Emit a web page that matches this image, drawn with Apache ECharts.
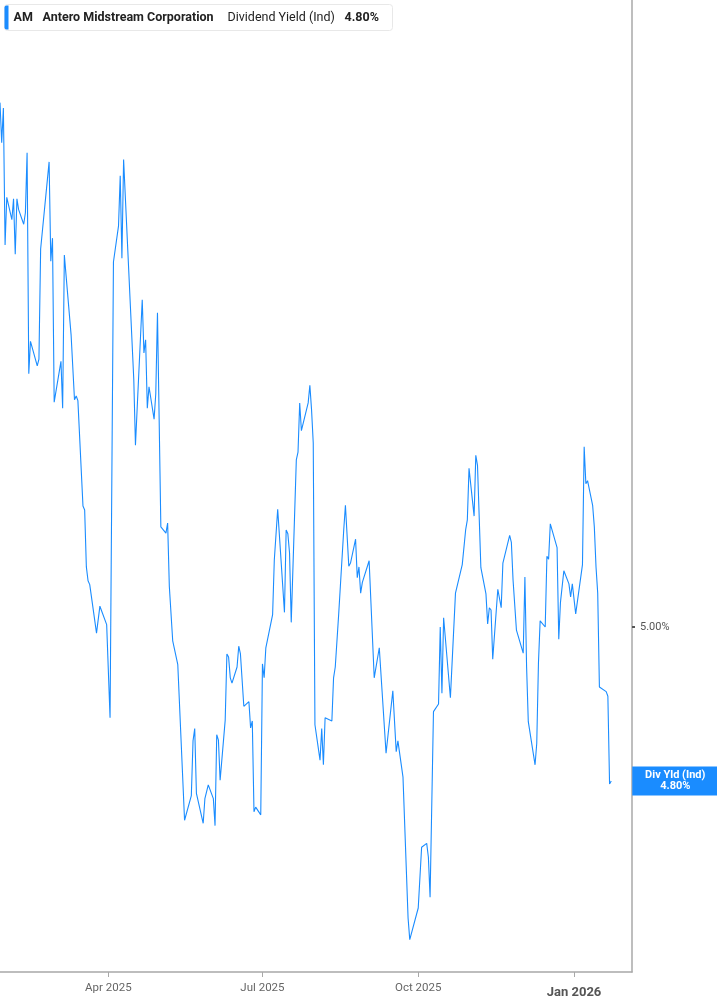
<!DOCTYPE html>
<html>
<head>
<meta charset="utf-8">
<script src="https://cdn.jsdelivr.net/npm/echarts@6/dist/echarts.min.js"></script>
<style>
html,body{margin:0;padding:0;background:#fff;}
#chart{width:717px;height:1005px;}
</style>
</head>
<body>
<div id="chart"></div>
<script>
// ---- data (dividend yield, %) ----
const dates = [
'2025-01-27','2025-01-28','2025-01-29','2025-01-30','2025-01-31','2025-02-03','2025-02-04','2025-02-05','2025-02-06','2025-02-07',
'2025-02-10','2025-02-11','2025-02-12','2025-02-13','2025-02-14','2025-02-18','2025-02-19','2025-02-20','2025-02-25','2025-02-26',
'2025-02-27','2025-02-28','2025-03-04','2025-03-05','2025-03-06','2025-03-10','2025-03-12','2025-03-13','2025-03-14','2025-03-17',
'2025-03-18','2025-03-19','2025-03-20','2025-03-21','2025-03-25','2025-03-27','2025-03-31','2025-04-02','2025-04-04','2025-04-07',
'2025-04-08','2025-04-09','2025-04-10','2025-04-14','2025-04-16','2025-04-17','2025-04-21','2025-04-22','2025-04-23','2025-04-24',
'2025-04-25','2025-04-28','2025-04-29','2025-04-30','2025-05-02','2025-05-05','2025-05-06','2025-05-07','2025-05-08','2025-05-09',
'2025-05-12','2025-05-16','2025-05-20','2025-05-21','2025-05-22','2025-05-23','2025-05-27','2025-05-28','2025-05-29','2025-05-30',
'2025-06-02','2025-06-03','2025-06-04','2025-06-05','2025-06-06','2025-06-09','2025-06-10','2025-06-11','2025-06-12','2025-06-13',
'2025-06-16','2025-06-17','2025-06-18','2025-06-20','2025-06-23','2025-06-24','2025-06-25','2025-06-26','2025-06-27','2025-06-30',
'2025-07-01','2025-07-02','2025-07-03','2025-07-07','2025-07-08','2025-07-10','2025-07-11','2025-07-14','2025-07-15','2025-07-16',
'2025-07-17','2025-07-18','2025-07-21','2025-07-22','2025-07-23','2025-07-24','2025-07-25','2025-07-28','2025-07-29','2025-07-30',
'2025-07-31','2025-08-01','2025-08-04','2025-08-05','2025-08-06','2025-08-07','2025-08-08','2025-08-11','2025-08-12','2025-08-13',
'2025-08-14','2025-08-15','2025-08-18','2025-08-19','2025-08-21','2025-08-22','2025-08-25','2025-08-26','2025-08-27','2025-08-28',
'2025-08-29','2025-09-02','2025-09-05','2025-09-08','2025-09-12','2025-09-16','2025-09-18','2025-09-19','2025-09-22','2025-09-25',
'2025-09-26','2025-10-01','2025-10-03','2025-10-06','2025-10-07','2025-10-08','2025-10-10','2025-10-13','2025-10-14','2025-10-15',
'2025-10-16','2025-10-20','2025-10-23','2025-10-24','2025-10-27','2025-10-29','2025-10-30','2025-10-31','2025-11-03','2025-11-04',
'2025-11-05','2025-11-06','2025-11-07','2025-11-10','2025-11-11','2025-11-12','2025-11-13','2025-11-14','2025-11-17','2025-11-19',
'2025-11-20','2025-11-21','2025-11-24','2025-11-25','2025-11-26','2025-11-28','2025-12-02','2025-12-03','2025-12-04','2025-12-05',
'2025-12-09','2025-12-10','2025-12-11','2025-12-12','2025-12-15','2025-12-16','2025-12-17','2025-12-18','2025-12-22','2025-12-23',
'2025-12-24','2025-12-26','2025-12-29','2025-12-30','2025-12-31','2026-01-02','2026-01-06','2026-01-07','2026-01-08','2026-01-09',
'2026-01-12','2026-01-13','2026-01-14','2026-01-15','2026-01-16','2026-01-20','2026-01-21','2026-01-22','2026-01-23'
];
const yieldValues = [
5.681,5.629,5.674,5.496,5.558,5.529,5.556,5.484,5.556,5.542,
5.523,5.538,5.616,5.329,5.371,5.339,5.348,5.491,5.604,5.475,
5.505,5.292,5.345,5.284,5.483,5.379,5.295,5.300,5.294,5.157,
5.152,5.078,5.060,5.055,4.992,5.027,5.003,4.882,5.474,5.521,
5.586,5.479,5.607,5.417,5.322,5.236,5.425,5.356,5.373,5.284,
5.312,5.270,5.303,5.408,5.130,5.122,5.135,5.053,5.052,4.982,
4.951,4.749,4.781,4.852,4.868,4.784,4.745,4.777,4.777,4.795,
4.777,4.742,4.860,4.853,4.801,4.879,4.965,4.961,4.934,4.927,
4.948,4.975,4.965,4.897,4.903,4.869,4.878,4.760,4.766,4.756,
4.952,4.934,4.973,5.016,5.087,5.153,5.151,5.019,5.126,5.121,
5.096,5.006,5.217,5.227,5.291,5.255,5.256,5.291,5.314,5.282,
5.239,4.873,4.827,4.868,4.821,4.882,4.883,4.878,4.934,4.948,
4.948,5.016,5.126,5.158,5.079,5.083,5.114,5.064,5.078,5.044,
5.058,5.086,4.934,4.973,4.836,4.917,4.838,4.852,4.805,4.622,
4.594,4.635,4.714,4.719,4.701,4.649,4.890,4.900,5.000,4.914,
5.012,4.908,5.044,5.045,5.081,5.126,5.139,5.206,5.144,5.223,
5.210,5.209,5.077,5.043,5.004,5.025,5.022,4.958,5.049,5.025,
5.083,5.083,5.119,5.110,5.061,4.996,4.966,5.065,4.948,4.877,
4.821,4.849,4.953,5.008,5.000,5.092,5.088,5.134,5.103,4.984,
5.032,5.073,5.056,5.039,5.056,5.017,5.081,5.234,5.186,5.190,
5.158,5.130,5.078,5.044,4.922,4.916,4.910,4.796,4.800
];
const xTickDates = ['2025-04-01','2025-07-01','2025-10-01','2026-01-01'];
const yTickValues = [5.0];
const ticker = 'AM';
const companyName = 'Antero Midstream Corporation';
const metricName = 'Dividend Yield (Ind)';
const endLabelName = 'Div Yld (Ind)';
const lastValueText = '4.80%';

const ts = s => Date.UTC(+s.slice(0, 4), +s.slice(5, 7) - 1, +s.slice(8, 10));
const seriesData = dates.map((d, i) => [ts(d), yieldValues[i]]);
const xTicks = xTickDates.map(ts);
const MONTHS = ['Jan','Feb','Mar','Apr','May','Jun','Jul','Aug','Sep','Oct','Nov','Dec'];

const chart = echarts.init(document.getElementById('chart'), null, {renderer: 'canvas'});
const BLUE = '#1a8cff';

chart.setOption({
  animation: false,
  backgroundColor: '#ffffff',
  grid: {left: 0, right: 85, top: 0, bottom: 33, containLabel: false},
  xAxis: {
    type: 'value',
    min: ts('2025-01-27'),
    max: ts('2026-02-04') + 6 * 3600 * 1000,
    axisLine: {show: true, lineStyle: {color: '#a8a8a8', width: 1.5}},
    axisTick: {show: true, customValues: xTicks, length: 5, lineStyle: {color: '#a8a8a8', width: 1}},
    splitLine: {show: false},
    axisLabel: {
      customValues: xTicks,
      margin: 10,
      color: '#666',
      fontFamily: 'Roboto',
      fontSize: 11.5,
      formatter: function (v) {
        const d = new Date(v);
        const s = MONTHS[d.getUTCMonth()] + ' ' + d.getUTCFullYear();
        return d.getUTCMonth() === 0 ? '{b|' + s + '}' : s;
      },
      rich: {b: {fontWeight: 'bold', fontSize: 13, color: '#555', fontFamily: 'Roboto', padding: [4, 0, 0, 0]}}
    }
  },
  yAxis: {
    type: 'value',
    position: 'right',
    min: 4.5519,
    max: 5.8143,
    axisLine: {show: true, lineStyle: {color: '#a8a8a8', width: 1.5}},
    axisTick: {show: true, customValues: yTickValues, length: 3, lineStyle: {color: '#555', width: 2}},
    splitLine: {show: false},
    axisLabel: {
      customValues: yTickValues,
      margin: 8,
      color: '#555',
      fontFamily: 'Roboto',
      fontSize: 11,
      formatter: v => v.toFixed(2) + '%'
    }
  },
  series: [{
    type: 'line',
    data: seriesData,
    showSymbol: false,
    symbol: 'none',
    lineStyle: {color: BLUE, width: 1.1},
    endLabel: {
      show: true,
      distance: 21,
      formatter: '{a|' + endLabelName + '}\n{a|' + lastValueText + '}',
      backgroundColor: BLUE,
      padding: [3, 0, 3, 0],
      rich: {
        a: {width: 86, align: 'center', color: '#fff', fontWeight: 'bold', fontFamily: 'Roboto', fontSize: 11, lineHeight: 11.5}
      }
    }
  }],
  graphic: [{
    type: 'group',
    left: 4,
    top: 4,
    children: [
      {type: 'rect', shape: {x: 0, y: 0, width: 388, height: 26, r: 3}, style: {fill: '#fff', stroke: '#e8e8e8', lineWidth: 1}},
      {type: 'rect', shape: {x: 0, y: 1, width: 4, height: 24, r: [2, 0, 0, 2]}, style: {fill: BLUE}},
      {type: 'text', x: 9, y: 13, style: {text: ticker, fill: '#222', font: 'bold 12.5px Roboto', verticalAlign: 'middle'}},
      {type: 'text', x: 38, y: 13, style: {text: companyName, fill: '#222', font: 'bold 12.5px Roboto', verticalAlign: 'middle'}},
      {type: 'text', x: 223, y: 13, style: {text: metricName, fill: '#222', font: '12.5px Roboto', verticalAlign: 'middle'}},
      {type: 'text', x: 340, y: 13, style: {text: lastValueText, fill: '#222', font: 'bold 12.5px Roboto', verticalAlign: 'middle'}}
    ]
  }]
});
</script>
</body>
</html>
